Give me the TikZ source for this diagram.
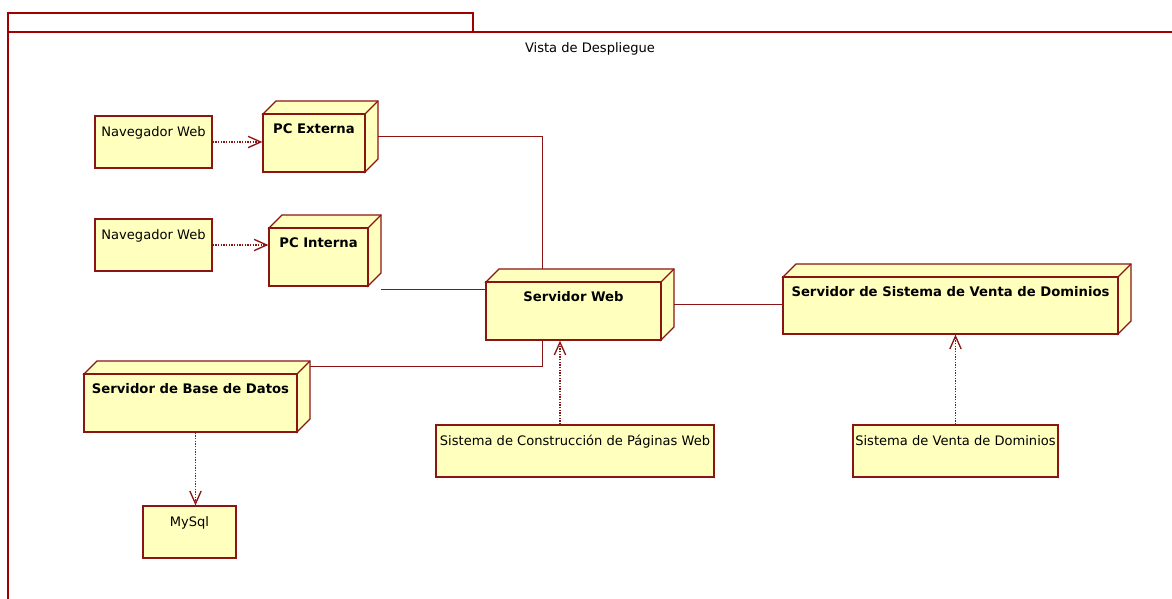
\documentclass[tikz,border=0pt]{standalone}
\usepackage{fontspec}
\setmainfont{DejaVu Sans}
\usetikzlibrary{fit,calc,arrows.meta}
\definecolor{umlred}{RGB}{139,20,20}
\definecolor{framered}{RGB}{160,0,0}
\definecolor{umlfill}{RGB}{255,255,190}

% device node: front face corners (x1,y1)-(x2,y2) plus 3D top/side
\newcommand\devnode[6]{%
  \filldraw[box] (#2,#3) -- ({#2+13},{#3-13}) -- ({#4+13},{#3-13}) -- ({#4+13},{#5-13}) -- (#4,#5) -- (#4,#3) -- cycle;
  \draw[box] (#4,#3) -- ({#4+13},{#3-13});
  \node[box, fit={(#2,#3) (#4,#5)}] (#1f) {};
  \node[fit={(#2,{#3-13}) ({#4+13},#5)}, inner sep=0pt] (#1) {};
  \node[blbl] (#1t) at ($(#1f.north)+(0,20)$) {#6};
}
% artifact box with its title at the top
\newcommand\compbox[6]{%
  \node[box, fit={(#2,#3) (#4,#5)}] (#1) {};
  \node[lbl] (#1t) at ($(#1.north)+(0,21)$) {#6};
}

\begin{document}
\begin{tikzpicture}[x=0.75pt,y=-0.75pt,
  box/.style={draw=umlred, fill=umlfill, line width=1pt, inner sep=0pt},
  lbl/.style={anchor=base, inner sep=0pt, font=\fontsize{9.8}{11}\selectfont},
  blbl/.style={lbl, font=\fontsize{9.9}{11}\selectfont\bfseries},
  link/.style={draw=umlred, line width=1.1pt},
  dep/.style={draw=umlred, line width=1pt, dash pattern=on 1pt off 1pt,
    -{Straight Barb[length=9.5pt,width=8.5pt]}},
  frameline/.style={draw=framered, line width=1.2pt},
]
\useasboundingbox (0,0) rectangle (1172,599);
\clip (0,0) rectangle (1172,599);

% diagram frame with its tab
\draw[frameline] (8,610) -- (8,13) -- (473,13) -- (473,32);
\draw[frameline] (8,32) -- (1190,32);
\node[lbl] (title) at (590,53) {Vista de Despliegue};

% devices
\devnode{pce}{263}{114}{365}{172}{PC Externa}
\devnode{pci}{269}{228}{368}{286}{PC Interna}
\devnode{sw}{486}{282}{661}{340}{Servidor Web}
\devnode{svd}{783}{277}{1118}{334}{Servidor de Sistema de Venta de Dominios}
\devnode{bd}{84}{374}{297}{432}{Servidor de Base de Datos}

% artifacts
\compbox{nav1}{95}{116}{212}{168}{Navegador Web}
\compbox{nav2}{95}{219}{212}{271}{Navegador Web}
\compbox{mysql}{143}{506}{236}{558}{MySql}
\compbox{scpw}{436}{425}{714}{477}{Sistema de Construcción de Páginas Web}
\compbox{svdom}{853}{425}{1058}{477}{Sistema de Venta de Dominios}

% connection ports
\coordinate (swtop) at ($(sw.north west)!0.3!(sw.north east)$);
\coordinate (pciport) at ($(pci.south east)+(0,3)$);
\coordinate (bdport) at ($(bd.north east)+(0,6)$);
\coordinate (bdout) at ($(bdf.south)+(5,0)$);
\coordinate (scpwout) at ($(scpw.north)+(-15,0)$);

% communication links
\draw[link] (pce.east) -| (swtop);
\draw[link] (pciport) -- (pciport -| swf.west);
\draw[link] (sw.east) -- (sw.east -| svdf.west);
\draw[link] (swtop |- swf.south) |- (bdport);

% deployment dependencies
\draw[dep] (nav1.east) -- (nav1.east -| pcef.west);
\draw[dep] (nav2.east) -- (nav2.east -| pcif.west);
\draw[dep] (bdout) -- (bdout |- mysql.north);
\draw[dep] (scpwout) -- (scpwout |- swf.south);
\draw[dep] (svdom.north) -- (svdom.north |- svdf.south);
\end{tikzpicture}
\end{document}
